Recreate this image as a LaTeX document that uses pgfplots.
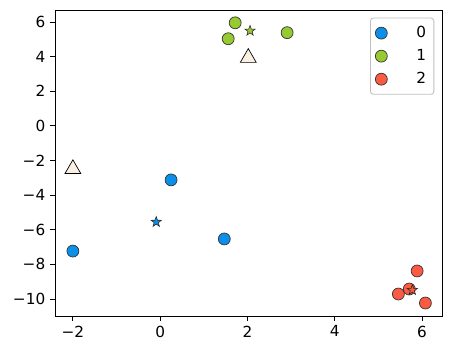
\documentclass[border=0pt]{standalone}
\usepackage{fontspec}
\setmainfont{DejaVu Sans}
\usepackage{pgfplots}
\usetikzlibrary{calc}
\pgfplotsset{compat=1.18}
\definecolor{cblue}{HTML}{0C8FE8}
\definecolor{cgreen}{HTML}{97C930}
\definecolor{cred}{HTML}{FA5B42}
\definecolor{ctri}{HTML}{FBEFE4}
\pgfdeclareplotmark{fstar}{%
  \pgfpathmoveto{\pgfpointpolar{90}{\pgfplotmarksize}}%
  \pgfpathlineto{\pgfpointpolar{126}{0.4\pgfplotmarksize}}%
  \pgfpathlineto{\pgfpointpolar{162}{\pgfplotmarksize}}%
  \pgfpathlineto{\pgfpointpolar{198}{0.4\pgfplotmarksize}}%
  \pgfpathlineto{\pgfpointpolar{234}{\pgfplotmarksize}}%
  \pgfpathlineto{\pgfpointpolar{270}{0.4\pgfplotmarksize}}%
  \pgfpathlineto{\pgfpointpolar{306}{\pgfplotmarksize}}%
  \pgfpathlineto{\pgfpointpolar{342}{0.4\pgfplotmarksize}}%
  \pgfpathlineto{\pgfpointpolar{18}{\pgfplotmarksize}}%
  \pgfpathlineto{\pgfpointpolar{54}{0.4\pgfplotmarksize}}%
  \pgfpathclose
  \pgfusepathqfillstroke
}
\begin{document}
\begin{tikzpicture}
\begin{axis}[
  name=ax,
  scale only axis,
  width=278.6pt, height=220.3pt,
  xmin=-2.41, xmax=6.46,
  ymin=-10.98, ymax=6.69,
  xtick={-2,0,2,4,6},
  xticklabels={−2,0,2,4,6},
  ytick={-10,-8,-6,-4,-2,0,2,4,6},
  yticklabels={−10,−8,−6,−4,−2,0,2,4,6},
  xtick pos=bottom, ytick pos=left,
  tick align=outside,
  major tick length=3.5pt,
  tick style={black, line width=0.6pt},
  axis line style={line width=0.6pt},
  ticklabel style={font=\fontsize{11}{13}\selectfont},
  legend style={at={(0.98,0.975)}, anchor=north east, draw=black!25, line width=0.6pt, rounded corners=2pt,
    font=\fontsize{11}{13}\selectfont, row sep=3pt, inner xsep=3.5pt, inner ysep=4pt},
  legend cell align=left,
]
\addplot[only marks, mark=*, mark size=4.3pt, mark options={fill=cblue, draw=black!80, line width=0.5pt}]
  coordinates {(-2.0,-7.23) (0.25,-3.12) (1.47,-6.53)};
\addlegendentry{\hspace*{19pt}0}
\addplot[only marks, mark=*, mark size=4.3pt, mark options={fill=cgreen, draw=black!80, line width=0.5pt}]
  coordinates {(1.72,5.95) (1.56,5.03) (2.91,5.38)};
\addlegendentry{\hspace*{19pt}1}
\addplot[only marks, mark=*, mark size=4.3pt, mark options={fill=cred, draw=black!80, line width=0.5pt}]
  coordinates {(5.89,-8.38) (5.46,-9.71) (5.71,-9.42) (6.08,-10.23)};
\addlegendentry{\hspace*{19pt}2}
\addplot[forget plot, only marks, mark=fstar, mark size=3.9pt, mark options={fill=cblue, draw=black!85, line width=0.4pt}]
  coordinates {(-0.09,-5.55)};
\addplot[forget plot, only marks, mark=fstar, mark size=3.9pt, mark options={fill=cgreen, draw=black!85, line width=0.4pt}]
  coordinates {(2.06,5.49)};
\addplot[forget plot, only marks, mark=fstar, mark size=3.9pt, mark options={fill=cred, draw=black!85, line width=0.4pt}]
  coordinates {(5.78,-9.48)};
\addplot[forget plot, only marks, mark=triangle*, mark size=6.6pt, mark options={fill=ctri, draw=black, line width=0.5pt}]
  coordinates {(2.02,3.93) (-2.0,-2.49)};
\end{axis}
\pgfresetboundingbox
\useasboundingbox ($(ax.south west)+(-39.6pt,-25.9pt)$) rectangle ($(ax.north east)+(7.2pt,7.2pt)$);
\end{tikzpicture}
\end{document}
